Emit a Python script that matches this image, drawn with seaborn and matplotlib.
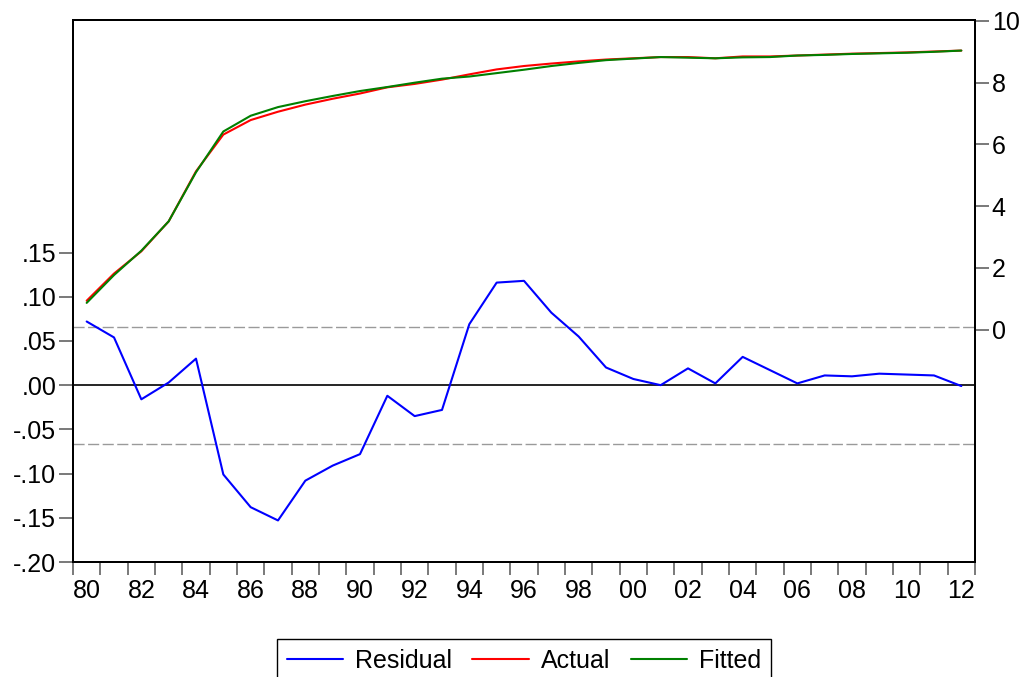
import numpy as np
import pandas as pd
import matplotlib
matplotlib.use("Agg")
import matplotlib.pyplot as plt
import seaborn as sns

years = list(range(1980, 2013))

residual = [0.072, 0.054, -0.016, 0.003, 0.030, -0.101, -0.138, -0.153, -0.108, -0.091,
            -0.078, -0.012, -0.035, -0.028, 0.069, 0.116, 0.118, 0.082, 0.055, 0.020,
            0.007, 0.000, 0.019, 0.002, 0.032, 0.017, 0.002, 0.011, 0.010, 0.013,
            0.012, 0.011, -0.001]

actual = [0.94, 1.82, 2.54, 3.51, 5.13, 6.32, 6.79, 7.06, 7.29, 7.48,
          7.65, 7.85, 7.96, 8.10, 8.27, 8.43, 8.54, 8.62, 8.69, 8.75,
          8.79, 8.83, 8.83, 8.79, 8.85, 8.85, 8.88, 8.91, 8.94, 8.96,
          8.98, 9.01, 9.04]

fitted = [0.87, 1.77, 2.56, 3.51, 5.10, 6.42, 6.93, 7.21, 7.40, 7.57,
          7.73, 7.86, 8.00, 8.13, 8.20, 8.31, 8.42, 8.54, 8.64, 8.73,
          8.78, 8.83, 8.81, 8.79, 8.82, 8.83, 8.88, 8.90, 8.93, 8.95,
          8.97, 9.00, 9.04]

std_band = 0.066

left_ticks = [-0.20, -0.15, -0.10, -0.05, 0.00, 0.05, 0.10, 0.15]
left_labels = ["-.20", "-.15", "-.10", "-.05", ".00", ".05", ".10", ".15"]
right_ticks = [0, 2, 4, 6, 8, 10]
year_labels = [f"{y % 100:02d}" for y in years if y % 2 == 0]

sns.set_theme(style="ticks")
plt.rcParams["font.family"] = ["Liberation Sans", "DejaVu Sans"]
plt.rcParams["text.color"] = "black"
plt.rcParams["xtick.labelcolor"] = "black"
plt.rcParams["ytick.labelcolor"] = "black"

df = pd.DataFrame({"x": [y + 0.5 for y in years],
                   "Residual": residual, "Actual": actual, "Fitted": fitted})

fig = plt.figure(figsize=(10.25, 6.77), dpi=100)
ax = fig.add_axes([73 / 1025, 1 - 562 / 677, 902 / 1025, 542 / 677])
ax2 = ax.twinx()

lw = 1.5
ax.axhline(0, color="black", lw=1.2, zorder=1)
for v in (std_band, -std_band):
    ax.axhline(v, color="#9a9a9a", lw=1.0, ls=(0, (8, 2.5)), zorder=1)

sns.lineplot(data=df, x="x", y="Residual", ax=ax, color="#0000ff", lw=lw, label="Residual", legend=False)
sns.lineplot(data=df, x="x", y="Actual", ax=ax2, color="#ff0000", lw=lw, label="Actual", legend=False)
sns.lineplot(data=df, x="x", y="Fitted", ax=ax2, color="#008000", lw=lw, label="Fitted", legend=False)

ax.set_xlim(1980, 2013)
ax.set_ylim(-0.20, 0.413)
ax2.set_ylim(-7.52, 10.03)

ax.set_xlabel("")
ax.set_ylabel("")
ax2.set_ylabel("")

fs = 18

# year boundaries carry the tick marks, labels sit mid-year
ax.set_xticks(list(range(1980, 2014)), minor=True)
ax.set_xticks([y + 0.5 for y in years if y % 2 == 0])
ax.set_xticklabels(year_labels)
ax.tick_params(axis="x", which="major", length=0, pad=12, labelsize=fs, labelcolor="black")
ax.tick_params(axis="x", which="minor", length=9, width=1.1, color="#555555", direction="out")

ax.set_yticks(left_ticks)
ax.set_yticklabels(left_labels)
ax.tick_params(axis="y", length=10, width=1.1, color="#555555", labelsize=fs, pad=2, labelcolor="black")
ax.yaxis.set_minor_locator(matplotlib.ticker.NullLocator())

ax2.set_yticks(right_ticks)
ax2.set_yticklabels([str(t) for t in right_ticks])
ax2.tick_params(axis="y", length=10, width=1.1, color="#555555", labelsize=fs, pad=2, labelcolor="black")
ax2.yaxis.set_minor_locator(matplotlib.ticker.NullLocator())

for a in (ax, ax2):
    for s in a.spines.values():
        s.set_visible(True)
        s.set_color("black")
        s.set_linewidth(1.4)

handles = [h for h in ax.get_lines() if h.get_label() == "Residual"] + \
          [h for h in ax2.get_lines() if h.get_label() in ("Actual", "Fitted")]
leg = fig.legend(handles, ["Residual", "Actual", "Fitted"], loc="upper center",
                 bbox_to_anchor=(524 / 1025, 1 - 639 / 677), ncol=3, fontsize=fs,
                 frameon=True, fancybox=False, edgecolor="black", framealpha=1,
                 handlelength=2.25, handletextpad=0.5, columnspacing=0.8,
                 borderpad=0.4, borderaxespad=0)
leg.get_frame().set_linewidth(1.0)
for t in leg.get_texts():
    t.set_color("black")

fig.savefig("out.png", dpi=100)
